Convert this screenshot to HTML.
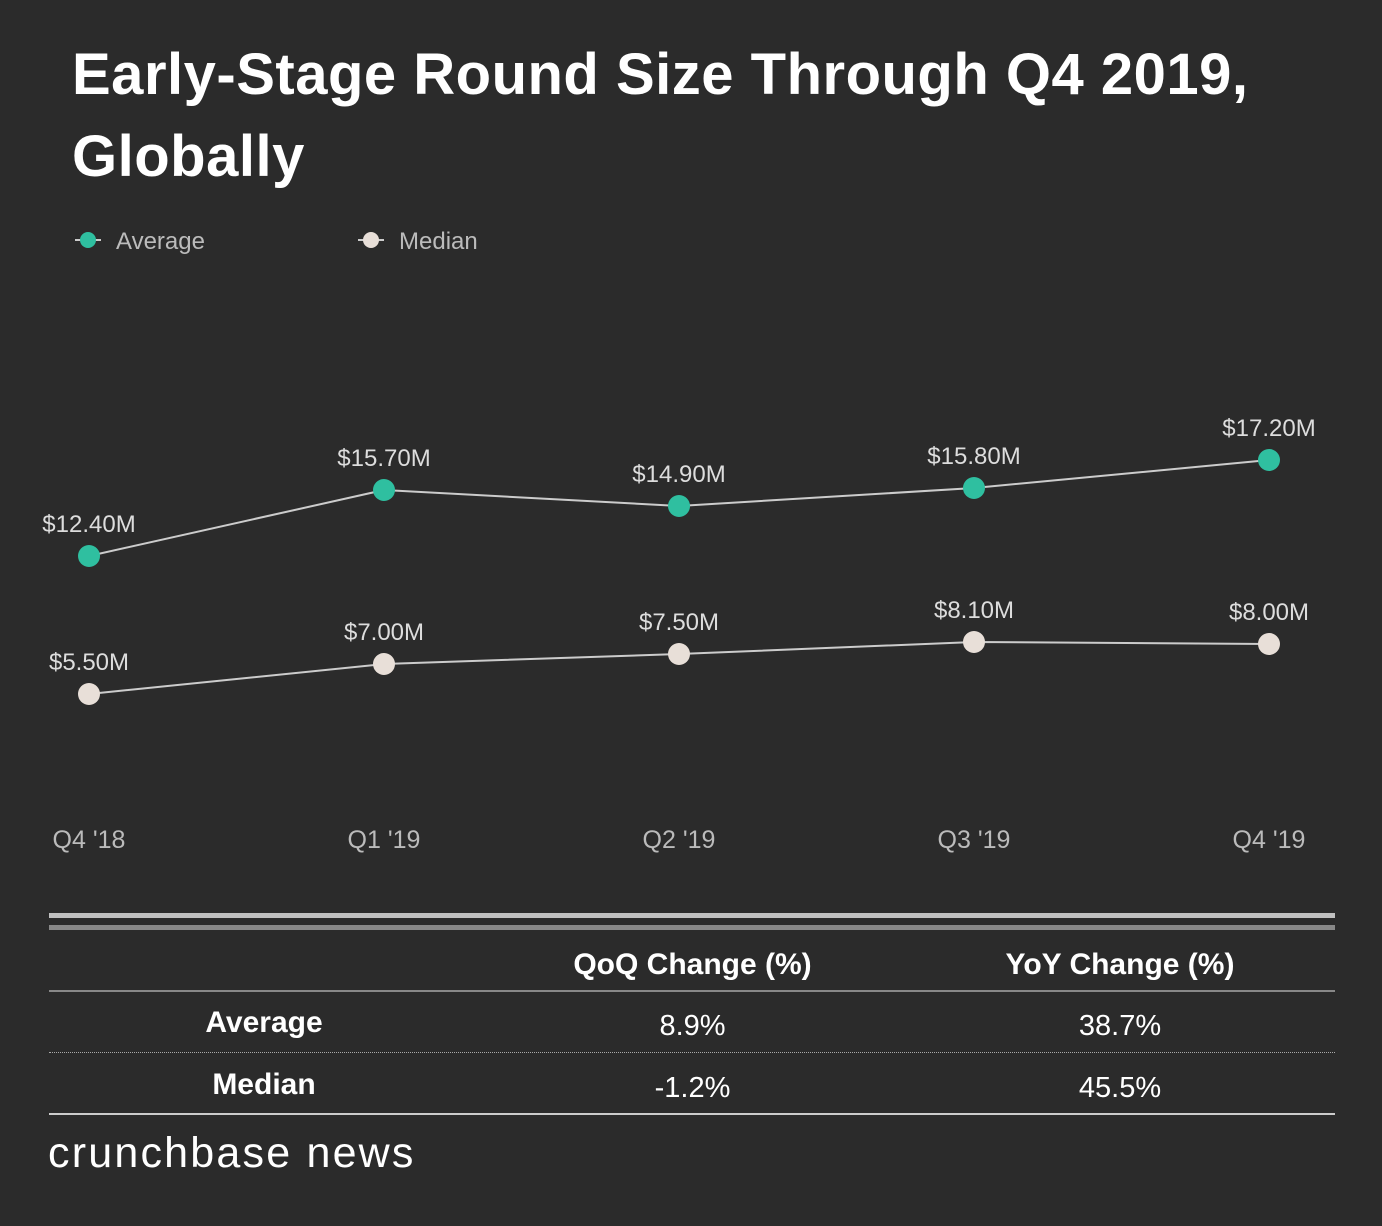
<!DOCTYPE html>
<html><head><meta charset="utf-8"><style>
body{margin:0;background:#2b2b2b;width:1382px;height:1226px;overflow:hidden;font-family:"Liberation Sans",sans-serif;position:relative}
.t{position:absolute;color:#fff}
</style></head><body>
<div class="t" style="left:72px;top:34px;font-size:58px;font-weight:bold;line-height:82px;width:1280px;letter-spacing:0.5px">Early-Stage Round Size Through Q4 2019, Globally</div>
<svg width="1382" height="900" style="position:absolute;left:0;top:0">
<g font-size="24" fill="#bbb">
<g><line x1="75" y1="240" x2="101" y2="240" stroke="#ccc" stroke-width="2"/><circle cx="88" cy="240" r="8" fill="#2fbfa0"/><text x="116" y="249">Average</text></g>
<g><line x1="358" y1="240" x2="384" y2="240" stroke="#ccc" stroke-width="2"/><circle cx="371" cy="240" r="8" fill="#e8dfd8"/><text x="399" y="249">Median</text></g>
</g>
<g id="plot"></g>
</svg>
<script>
const categories=["Q4 '18","Q1 '19","Q2 '19","Q3 '19","Q4 '19"];
const averageValues=[12.4,15.7,14.9,15.8,17.2];
const medianValues=[5.5,7.0,7.5,8.1,8.0];
const averageLabels=["$12.40M","$15.70M","$14.90M","$15.80M","$17.20M"];
const medianLabels=["$5.50M","$7.00M","$7.50M","$8.10M","$8.00M"];
const NS="http://www.w3.org/2000/svg";
const xs=i=>89+i*295;
const ys=v=>804-20*v;
const g=document.getElementById('plot');
function mk(t,a){const e=document.createElementNS(NS,t);for(const k in a)e.setAttribute(k,a[k]);g.appendChild(e);return e;}
function series(vals,labels,color,name){
  const l=mk('polyline',{points:vals.map((v,i)=>xs(i)+','+ys(v)).join(' '),fill:'none',stroke:'#ccc','stroke-width':2});
  
  
  vals.forEach((v,i)=>{
    const c=mk('circle',{cx:xs(i),cy:ys(v),r:11,fill:color});
    
    
    const t=mk('text',{x:xs(i),y:ys(v)-24,'text-anchor':'middle','font-size':24,fill:'#ddd'});
    t.textContent=labels[i];
    
    
  });
}
series(averageValues,averageLabels,'#2fbfa0','average');
series(medianValues,medianLabels,'#e8dfd8','median');
categories.forEach((c,i)=>{
  const t=mk('text',{x:xs(i),y:848,'text-anchor':'middle','font-size':25,fill:'#bbb'});
  t.textContent=c;
  
  
});
</script>
<div style="position:absolute;left:49px;top:913px;width:1286px;height:5px;background:#c0c0c0"></div>
<div style="position:absolute;left:49px;top:925px;width:1286px;height:5px;background:#888"></div>
<div class="t" style="left:480px;top:948px;width:425px;text-align:center;font-size:30px;font-weight:bold">QoQ Change (%)</div>
<div class="t" style="left:905px;top:948px;width:430px;text-align:center;font-size:30px;font-weight:bold">YoY Change (%)</div>
<div style="position:absolute;left:49px;top:990px;width:1286px;height:2px;background:#888"></div>
<div class="t" style="left:49px;top:1006px;width:430px;text-align:center;font-size:30px;font-weight:bold">Average</div>
<div class="t" style="left:480px;top:1010px;width:425px;text-align:center;font-size:29px">8.9%</div>
<div class="t" style="left:905px;top:1010px;width:430px;text-align:center;font-size:29px">38.7%</div>
<div style="position:absolute;left:49px;top:1052px;width:1286px;border-top:1px dotted #aaa"></div>
<div class="t" style="left:49px;top:1068px;width:430px;text-align:center;font-size:30px;font-weight:bold">Median</div>
<div class="t" style="left:480px;top:1072px;width:425px;text-align:center;font-size:29px">-1.2%</div>
<div class="t" style="left:905px;top:1072px;width:430px;text-align:center;font-size:29px">45.5%</div>
<div style="position:absolute;left:49px;top:1113px;width:1286px;height:2px;background:#ccc"></div>
<div class="t" style="left:48px;top:1128px;font-size:43px;line-height:50px;letter-spacing:2.2px">crunchbase news</div>
</body></html>
